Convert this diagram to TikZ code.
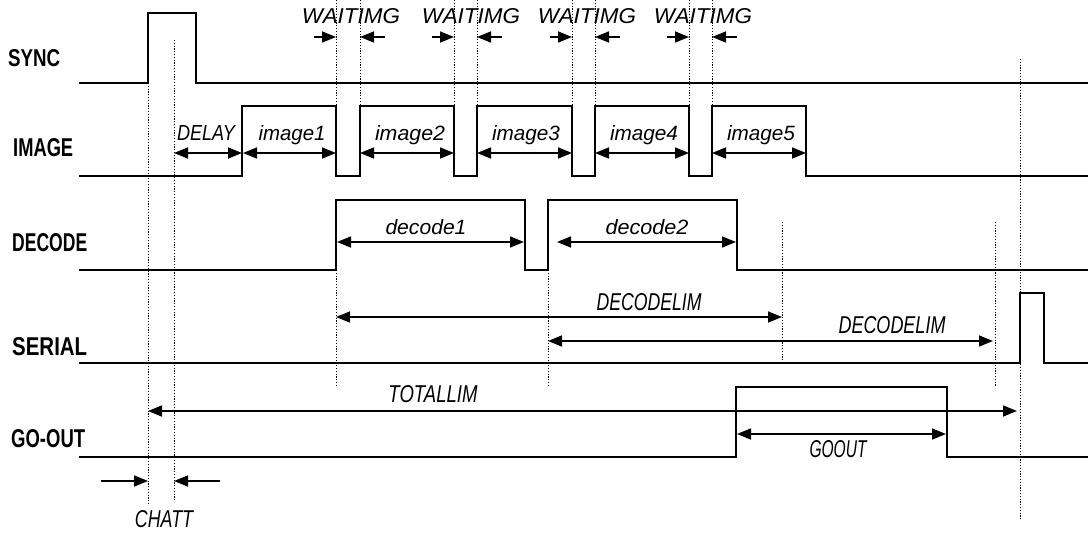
\documentclass[tikz,border=0pt]{standalone}
\usepackage{fontspec}
\usepackage{graphicx}
\setmainfont{Liberation Sans}
\usetikzlibrary{arrows.meta}
\newcommand\fitbox[3]{\resizebox{#1pt}{#2pt}{#3}}
\begin{document}
\begin{tikzpicture}[x=1pt,y=-1pt,
 wave/.style={line width=1.8pt, line join=miter},
 guide/.style={line width=1pt, dash pattern=on 1.2pt off 1.6pt},
 dim/.style={line width=1.6pt, {Triangle[length=14pt,width=11pt]}-{Triangle[length=14pt,width=11pt]}},
 rdim/.style={line width=1.6pt, -{Triangle[length=14pt,width=11pt]}},
 sig/.style={inner sep=0pt, anchor=base west, font=\bfseries},
 lbl/.style={inner sep=0pt, anchor=base, font=\itshape}]
\useasboundingbox (0,0) rectangle (1088,533);

% signal names
\node[sig] (nsync) at (8,66) {\fitbox{52}{17}{SYNC}};
\node[sig] (nimage) at (13,156) {\fitbox{60}{18}{IMAGE}};
\node[sig] (ndecode) at (12,251) {\fitbox{75}{18}{DECODE}};
\node[sig] (nserial) at (12,355) {\fitbox{75}{18}{SERIAL}};
\node[sig] (ngoout) at (11,447) {\fitbox{74}{18}{GO-OUT}};

% guides
\draw[guide] (148,83) -- (148,505);
\draw[guide] (174,40) -- (174,502);
\foreach \x in {336,360,454,477,572,595,689,712} \draw[guide] (\x,0) -- (\x,106);
\draw[guide] (336,270) -- (336,387);
\draw[guide] (548,270) -- (548,387);
\draw[guide] (782,222) -- (782,360);
\draw[guide] (995,222) -- (995,387);
\draw[guide] (1020,59) -- (1020,520);

% waveforms
\draw[wave] (79,83) -- (148,83) -- (148,13) -- (196,13) -- (196,83) -- (1088,83);
\draw[wave] (79,176) -- (242,176) -- (242,106) -- (336,106) -- (336,176) -- (360,176) -- (360,106) -- (454,106) -- (454,176) -- (477,176) -- (477,106) -- (572,106) -- (572,176) -- (595,176) -- (595,106) -- (689,106) -- (689,176) -- (712,176) -- (712,106) -- (806,106) -- (806,176) -- (1088,176);
\draw[wave] (79,270) -- (336,270) -- (336,200) -- (525,200) -- (525,270) -- (548,270) -- (548,200) -- (737,200) -- (737,270) -- (1088,270);
\draw[wave] (79,363) -- (1020,363) -- (1020,293) -- (1044,293) -- (1044,363) -- (1088,363);
\draw[wave] (79,457) -- (736,457) -- (736,387) -- (947,387) -- (947,457) -- (1088,457);

% WAITIMG
\foreach \a/\b/\c in {336/360/351,454/477/471,572/595/587,689/712/703}{
  \draw[rdim] (\a-22,37) -- (\a,37);
  \draw[rdim] (\b+25,37) -- (\b,37);
  \node[lbl] at (\c,23) {\fitbox{98}{15}{WAITIMG}};
}

% image timings
\draw[dim] (174,153) -- (242,153);
\node[lbl] at (206,140) {\fitbox{58}{15}{DELAY}};
\draw[dim] (243,153) -- (336,153);
\node[lbl] at (292,140) {\fitbox{67}{15}{image1}};
\draw[dim] (360,153) -- (454,153);
\node[lbl] at (410,140) {\fitbox{70}{15}{image2}};
\draw[dim] (477,153) -- (572,153);
\node[lbl] at (526,140) {\fitbox{68}{15}{image3}};
\draw[dim] (595,153) -- (689,153);
\node[lbl] at (644,140) {\fitbox{68}{15}{image4}};
\draw[dim] (712,153) -- (806,153);
\node[lbl] at (761,140) {\fitbox{68}{15}{image5}};

% decode
\draw[dim] (337,242) -- (524,242);
\node[lbl] at (426,234) {\fitbox{81}{15}{decode1}};
\draw[dim] (557,242) -- (736,242);
\node[lbl] at (647,234) {\fitbox{83}{15}{decode2}};

% decode limits
\draw[dim] (336,317) -- (782,317);
\node[lbl] at (649,310) {\fitbox{105}{17}{DECODELIM}};
\draw[dim] (548,341) -- (993,341);
\node[lbl] at (892,333) {\fitbox{107}{17}{DECODELIM}};

% total and go-out
\draw[dim] (148,411) -- (1017,411);
\node[lbl] at (433,402) {\fitbox{89}{17}{TOTALLIM}};
\draw[dim] (737,434) -- (946,434);
\node[lbl] at (838,457) {\fitbox{57}{17}{GOOUT}};

% chatter
\draw[rdim] (101,481) -- (148,481);
\draw[rdim] (220,481) -- (174,481);
\node[lbl] at (164,527) {\fitbox{58}{17}{CHATT}};
\end{tikzpicture}
\end{document}
